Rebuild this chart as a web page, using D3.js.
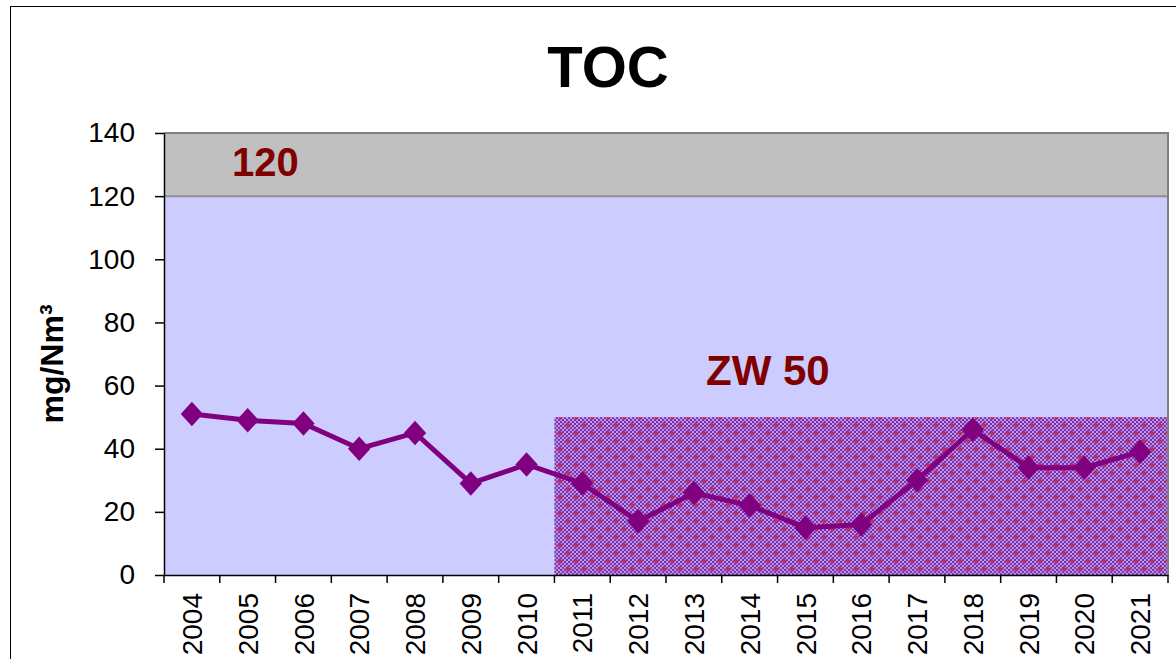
<!DOCTYPE html>
<html>
<head>
<meta charset="utf-8">
<script src="https://cdn.jsdelivr.net/npm/d3@7"></script>
<style>
  body { margin: 0; background: #fff; }
  text { font-family: "Liberation Sans", Arial, sans-serif; }
</style>
</head>
<body>
<div id="chart"></div>
<script>
// chart data
var years = ["2004", "2005", "2006", "2007", "2008", "2009", "2010", "2011", "2012",
             "2013", "2014", "2015", "2016", "2017", "2018", "2019", "2020", "2021"];
var tocValues = [51, 49, 48, 40, 45, 29, 35, 29, 17, 26, 22, 15, 16, 30, 46, 34, 34, 39];
var yTicks = [0, 20, 40, 60, 80, 100, 120, 140];
var limitDaily = 120;   // upper band
var limitZW = 50;       // ZW limit, from 2011 on
var zwStartYear = "2011";

var svgWidth = 1176;
var svgHeight = 659;

var margin = { top: 133, right: 8, bottom: 84, left: 164 };
var width = svgWidth - margin.left - margin.right;
var height = svgHeight - margin.top - margin.bottom;

var svg = d3.select("#chart")
    .append("svg")
    .attr("width", svgWidth)
    .attr("height", svgHeight);

// hatch pattern for ZW area
var defs = svg.append("defs");
var pat = defs.append("pattern")
    .attr("id", "zwHatch")
    .attr("patternUnits", "userSpaceOnUse")
    .attr("width", 16)
    .attr("height", 16);
pat.append("rect").attr("width", 16).attr("height", 16).attr("fill", "#a0a0ff");
for (var i = 0; i < 8; i++) {
    for (var j = 0; j < 8; j++) {
        if ((i + j) % 2 == 0) {
            pat.append("rect")
                .attr("x", i * 2).attr("y", j * 2)
                .attr("width", 2).attr("height", 2)
                .attr("fill", "#962896");
        }
    }
}
[[4, 4], [12, 12]].forEach(function(c) {
    pat.append("rect").attr("x", c[0] - 3).attr("y", c[1] - 1).attr("width", 6).attr("height", 2).attr("fill", "#b8306a");
    pat.append("rect").attr("x", c[0] - 1).attr("y", c[1] - 3).attr("width", 2).attr("height", 6).attr("fill", "#b8306a");
});

// outer frame
svg.append("rect")
    .attr("x", 10.5).attr("y", 6.5)
    .attr("width", 1200).attr("height", 700)
    .attr("fill", "none")
    .attr("stroke", "#000")
    .attr("stroke-width", 1);

// title
svg.append("text")
    .attr("x", 608)
    .attr("y", 87)
    .attr("text-anchor", "middle")
    .style("font-size", "58px")
    .style("font-weight", "bold")
    .text("TOC");

var chartGroup = svg.append("g").attr("transform", `translate(${margin.left}, ${margin.top})`);

// scales
var xBandScale = d3.scaleBand()
    .domain(years)
    .range([0, width])
    .padding(0);

var yLinearScale = d3.scaleLinear()
    .domain([0, 140])
    .range([height, 0]);

// background bands
chartGroup.append("rect")
    .attr("x", 0).attr("y", yLinearScale(140))
    .attr("width", width)
    .attr("height", yLinearScale(limitDaily) - yLinearScale(140))
    .attr("fill", "#c0c0c0");

chartGroup.append("rect")
    .attr("x", 0).attr("y", yLinearScale(limitDaily))
    .attr("width", width)
    .attr("height", yLinearScale(0) - yLinearScale(limitDaily))
    .attr("fill", "#ccccff");

chartGroup.append("line")
    .attr("x1", 0).attr("x2", width)
    .attr("y1", yLinearScale(limitDaily)).attr("y2", yLinearScale(limitDaily))
    .attr("stroke", "#909090")
    .attr("stroke-width", 2);

// ZW hatched area
chartGroup.append("rect")
    .attr("x", xBandScale(zwStartYear))
    .attr("y", yLinearScale(limitZW))
    .attr("width", width - xBandScale(zwStartYear))
    .attr("height", yLinearScale(0) - yLinearScale(limitZW))
    .attr("fill", "url(#zwHatch)");

// plot border (top + right)
chartGroup.append("path")
    .attr("d", `M0,0H${width}V${height}`)
    .attr("fill", "none")
    .attr("stroke", "#808080")
    .attr("stroke-width", 2);

// labels inside the plot
chartGroup.append("text")
    .attr("x", 68)
    .attr("y", yLinearScale(limitDaily) - 20)
    .attr("fill", "#800000")
    .style("font-size", "40px")
    .style("font-weight", "bold")
    .text(String(limitDaily));

chartGroup.append("text")
    .attr("x", 542)
    .attr("y", yLinearScale(limitZW) - 32)
    .attr("fill", "#800000")
    .style("font-size", "42px")
    .style("font-weight", "bold")
    .text("ZW " + limitZW);

// axes
var leftAxis = d3.axisLeft(yLinearScale)
    .tickValues(yTicks)
    .tickSize(9)
    .tickPadding(20)
    .tickSizeOuter(0);

var yAxisG = chartGroup.append("g").call(leftAxis);
yAxisG.selectAll("text")
    .style("font-size", "28px")
    .style("font-family", "'Liberation Sans', Arial, sans-serif")
    .attr("fill", "#000");
yAxisG.selectAll("line, path").attr("stroke", "#000").attr("stroke-width", 1.5);

var bottomAxis = d3.axisBottom(xBandScale)
    .tickSize(0)
    .tickSizeOuter(0);

var xAxisG = chartGroup.append("g")
    .attr("transform", `translate(0, ${height})`)
    .call(bottomAxis);
xAxisG.select(".domain").attr("stroke", "#000").attr("stroke-width", 1.5);
xAxisG.selectAll("text")
    .attr("y", 0)
    .attr("x", -18)
    .attr("dy", "0.36em")
    .attr("transform", "rotate(-90)")
    .style("text-anchor", "end")
    .style("font-size", "28px")
    .style("font-family", "'Liberation Sans', Arial, sans-serif")
    .attr("fill", "#000");

// boundary ticks between the years
var bounds = years.map(d => xBandScale(d)).concat([width]);
xAxisG.selectAll(".bound")
    .data(bounds)
    .enter()
    .append("line")
    .attr("class", "bound")
    .attr("x1", d => d).attr("x2", d => d)
    .attr("y1", 0).attr("y2", 8)
    .attr("stroke", "#000")
    .attr("stroke-width", 1.5);

// y label
svg.append("text")
    .attr("transform", "translate(63, 364) rotate(-90)")
    .attr("text-anchor", "middle")
    .style("font-size", "32px")
    .style("font-weight", "bold")
    .text("mg/Nm³");

// line + markers
var points = years.map((y, i) => ({ year: y, value: tocValues[i] }));

var line = d3.line()
    .x(d => xBandScale(d.year) + xBandScale.bandwidth() / 2)
    .y(d => yLinearScale(d.value));

chartGroup.append("path")
    .datum(points)
    .attr("d", line)
    .attr("fill", "none")
    .attr("stroke", "#800080")
    .attr("stroke-width", 5);

var marker = d3.symbol().type(d3.symbolSquare).size(250);

chartGroup.selectAll(".marker")
    .data(points)
    .enter()
    .append("path")
    .attr("class", "marker")
    .attr("d", marker)
    .attr("fill", "#800080")
    .attr("transform", d => `translate(${xBandScale(d.year) + xBandScale.bandwidth() / 2}, ${yLinearScale(d.value)}) scale(1, 1.1) rotate(45)`);
</script>
</body>
</html>
